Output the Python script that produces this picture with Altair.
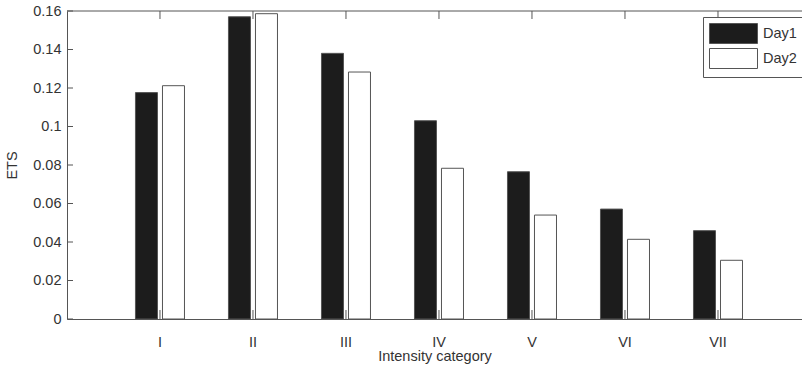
import altair as alt
import pandas as pd

categories = ["I", "II", "III", "IV", "V", "VI", "VII"]
day1 = [0.1176, 0.157, 0.138, 0.103, 0.0765, 0.0571, 0.0459]
day2 = [0.1212, 0.1586, 0.1283, 0.0783, 0.054, 0.0414, 0.0305]
series = ["Day1", "Day2"]
y_ticks = [0, 0.02, 0.04, 0.06, 0.08, 0.1, 0.12, 0.14, 0.16]

rows = []
for c, a, b in zip(categories, day1, day2):
    rows.append({"cat": c, "day": "Day1", "ets": a})
    rows.append({"cat": c, "day": "Day2", "ets": b})
df = pd.DataFrame(rows)
cat_df = pd.DataFrame({"cat": categories})
tick_df = pd.DataFrame({"v": y_ticks})

FONT = "Liberation Sans"
FS = 14.5
LINE = "#555555"
W, H = 735, 308

xscale = alt.Scale(domain=categories, paddingInner=0.473, paddingOuter=0.688, align=0.535)
yscale = alt.Scale(domain=[0, 0.16], nice=False)

x_axis = alt.Axis(
    title="Intensity category", labelAngle=0, ticks=False, domain=True,
    domainColor=LINE, labelPadding=16, titlePadding=1,
)
y_axis = alt.Axis(
    title="ETS", values=y_ticks, format="~g", ticks=False, domain=True,
    domainColor=LINE, labelPadding=6, titlePadding=13, grid=False,
    labelOverlap=False, labelFlush=False,
)

bars = alt.Chart(df).mark_bar(stroke=LINE, strokeWidth=1).encode(
    x=alt.X("cat:N", scale=xscale, axis=x_axis, sort=categories),
    xOffset=alt.XOffset("day:N", scale=alt.Scale(domain=series, paddingInner=0.185, paddingOuter=0)),
    y=alt.Y("ets:Q", scale=yscale, axis=y_axis),
    fill=alt.Fill(
        "day:N",
        scale=alt.Scale(domain=series, range=["#1c1c1c", "#ffffff"]),
        legend=alt.Legend(
            orient="none", legendX=636, legendY=6, title=None,
            symbolType="M-1,-1L3.8,-1L3.8,1L-1,1Z", symbolSize=400,
            symbolStrokeColor=LINE, symbolStrokeWidth=1,
            strokeColor=LINE, fillColor="white", padding=6, rowPadding=0,
            labelFontSize=FS, labelFont=FONT, labelOffset=33, labelColor="#333333",
            labelExpr="datum.label + '          '",
        ),
    ),
)

bottom_ticks = alt.Chart(cat_df).mark_rule(color=LINE).encode(
    x=alt.X("cat:N", scale=xscale, sort=categories), y=alt.value(H), y2=alt.value(H - 9)
)
top_ticks = alt.Chart(cat_df).mark_rule(color=LINE).encode(
    x=alt.X("cat:N", scale=xscale, sort=categories), y=alt.value(0), y2=alt.value(8)
)
left_ticks = alt.Chart(tick_df).mark_rule(color=LINE).encode(
    y=alt.Y("v:Q", scale=yscale, axis=y_axis), x=alt.value(0), x2=alt.value(6)
)
top_frame = alt.Chart(cat_df.head(1)).mark_rule(color=LINE).encode(
    x=alt.value(0), x2=alt.value(W), y=alt.value(0)
)

chart = alt.layer(bars, bottom_ticks, top_ticks, left_ticks, top_frame).properties(
    width=W, height=H,
    autosize=alt.AutoSizeParams(type="none"),
    padding={"left": 67, "top": 11, "right": 0, "bottom": 49},
    background="white",
).configure_view(stroke=None).configure_axis(
    labelFont=FONT, titleFont=FONT, labelFontSize=FS, titleFontSize=FS,
    labelColor="#333333", titleColor="#333333", titleFontWeight="normal",
)

chart.save("out.html", embed_options={"renderer": "svg", "actions": False})
